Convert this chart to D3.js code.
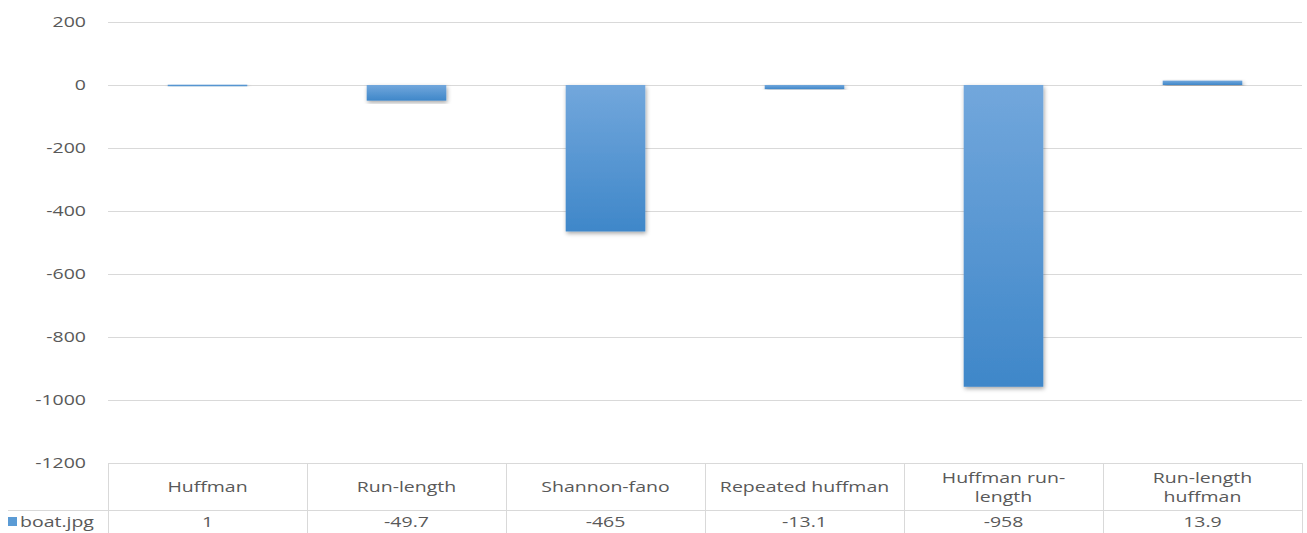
<!DOCTYPE html>
<html>
<head>
<meta charset="utf-8">
<script src="https://cdn.jsdelivr.net/npm/d3@7"></script>
<style>
  html, body { margin: 0; padding: 0; background: #fff; }
  svg text { font-family: "Open Sans", "Liberation Sans", sans-serif; fill: #595959; }
</style>
</head>
<body>
<svg id="chart" width="1307" height="533"></svg>
<script>
// Compression results for boat.jpg
const categories = ["Huffman", "Run-length", "Shannon-fano", "Repeated huffman", "Huffman run-length", "Run-length huffman"];
const categoryLines = [["Huffman"], ["Run-length"], ["Shannon-fano"], ["Repeated huffman"], ["Huffman run-", "length"], ["Run-length", "huffman"]];
const seriesName = "boat.jpg";
const values = [1, -49.7, -465, -13.1, -958, 13.9];
const valueLabels = ["1", "-49.7", "-465", "-13.1", "-958", "13.9"];
const yTicks = [200, 0, -200, -400, -600, -800, -1000, -1200];

const svg = d3.select("#chart");
const plotLeft = 108, plotRight = 1302, plotTop = 22, plotBottom = 463;
const tableBottom = 533, rowSplit = 510;
const fontSize = 15, stretch = "scale(1.3,1)";

const x = d3.scaleBand().domain(categories).range([plotLeft, plotRight]).paddingInner(0.6).paddingOuter(0.3);
const xCell = d3.scaleBand().domain(categories).range([plotLeft, plotRight]);
const y = d3.scaleLinear().domain([-1200, 200]).range([plotBottom, plotTop]);

// bar fill gradient and drop shadow
const defs = svg.append("defs");
const grad = defs.append("linearGradient").attr("id", "barGrad").attr("x1", 0).attr("y1", 0).attr("x2", 0).attr("y2", 1);
grad.append("stop").attr("offset", "0%").attr("stop-color", "#72a7dc");
grad.append("stop").attr("offset", "100%").attr("stop-color", "#3f87c9");
const flt = defs.append("filter").attr("id", "shadow").attr("x", "-20%").attr("y", "-20%").attr("width", "140%").attr("height", "140%");
flt.append("feDropShadow").attr("dx", 1).attr("dy", 2).attr("stdDeviation", 2).attr("flood-color", "#000").attr("flood-opacity", 0.35);

// horizontal gridlines (the bottom one is the table's top border)
svg.append("g").selectAll("line").data(yTicks).join("line")
  .attr("x1", plotLeft).attr("x2", plotRight)
  .attr("y1", d => Math.round(y(d)) + 0.5).attr("y2", d => Math.round(y(d)) + 0.5)
  .attr("stroke", "#d9d9d9").attr("stroke-width", 1);

// y axis labels
const yAxis = d3.axisLeft(y).tickValues(yTicks).tickSize(0).tickPadding(0).tickFormat(d => String(d));
const gy = svg.append("g").attr("transform", `translate(86,0)`).call(yAxis);
gy.select(".domain").remove();
gy.selectAll("text").attr("font-size", fontSize).attr("transform", stretch)
  .style("fill", "#595959")
  .style("font-family", '"Open Sans", "Liberation Sans", sans-serif');

// bars
svg.append("g").selectAll("rect").data(values).join("rect")
  .attr("x", (d, i) => x(categories[i]))
  .attr("width", x.bandwidth())
  .attr("y", d => y(Math.max(0, d)))
  .attr("height", d => Math.max(1.5, Math.abs(y(d) - y(0))))
  .attr("fill", "url(#barGrad)")
  .attr("filter", "url(#shadow)");

// data table
const table = svg.append("g");
const cellEdges = categories.map(c => xCell(c)).concat([plotRight]);
table.selectAll("line.v").data(cellEdges).join("line").attr("class", "v")
  .attr("x1", d => Math.round(d) + 0.5).attr("x2", d => Math.round(d) + 0.5)
  .attr("y1", plotBottom).attr("y2", tableBottom)
  .attr("stroke", "#d9d9d9");
table.append("line")
  .attr("x1", 8).attr("x2", plotRight).attr("y1", rowSplit + 0.5).attr("y2", rowSplit + 0.5)
  .attr("stroke", "#d9d9d9");

// places horizontally stretched lines of text centred on (cx, cy)
function label(cx, cy, lines, anchor) {
  const lh = 19;
  lines.forEach((ln, k) => {
    const ly = cy + (k - (lines.length - 1) / 2) * lh;
    table.append("g").attr("transform", `translate(${cx},${ly}) ${stretch}`)
      .append("text").attr("text-anchor", anchor || "middle").attr("font-size", fontSize)
      .attr("dy", "0.35em").text(ln);
  });
}

// category header cells
categoryLines.forEach((lines, i) => {
  label(xCell(categories[i]) + xCell.bandwidth() / 2, 487, lines);
});

// value row
valueLabels.forEach((v, i) => {
  label(xCell(categories[i]) + xCell.bandwidth() / 2, 522, [v]);
});

// legend key in the row header
table.append("rect").attr("x", 8).attr("y", 517).attr("width", 9).attr("height", 9).attr("fill", "#5b9bd5");
label(20, 522, [seriesName], "start");
</script>
</body>
</html>
